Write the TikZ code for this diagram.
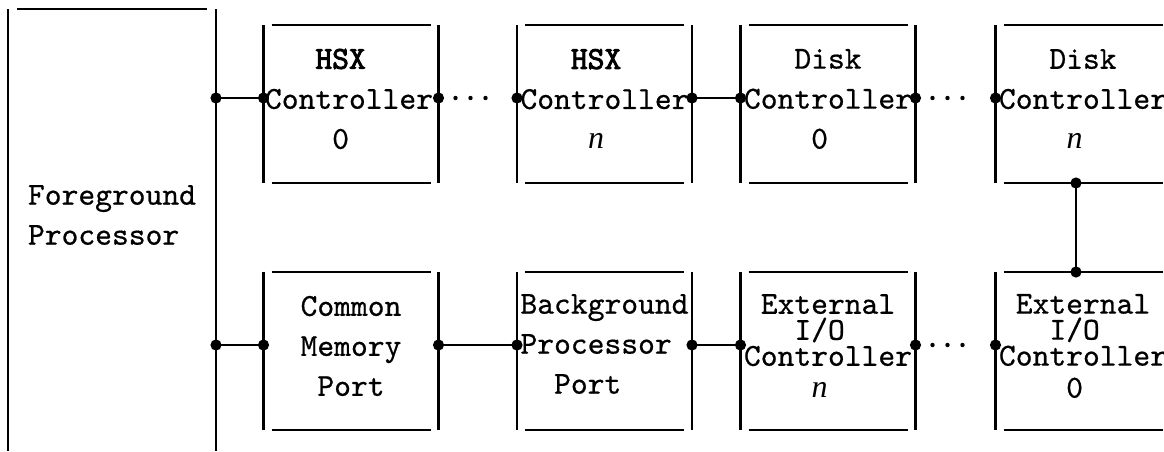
\documentclass[tikz,border=0pt]{standalone}
\usepackage{fontspec}
\newfontfamily\serifit{Liberation Serif}
\newfontfamily\tw{lmmono10-regular.otf}[FakeBold=0.6]
\newfontfamily\twb{lmmono10-regular.otf}[FakeBold=2.6]
\usetikzlibrary{calc}
\setlength{\lineskiplimit}{-20pt}
\newcommand\nn{{\serifit\itshape n}}
\newcommand\hs{\hphantom{x}}
\newcommand\bxframe[1]{%
  \draw[vline] (#1.north west) -- (#1.south west) (#1.north east) -- (#1.south east);
  \draw[hline] ([xshift=4pt]#1.north west) -- ([xshift=-4pt]#1.north east)
               ([xshift=4pt]#1.south west) -- ([xshift=-4pt]#1.south east);}
\newcommand\linkbx[2]{%
  \draw[conn] ($(#1.east)+(0,-6)$) -- ($(#2.west)+(0,-6)$);
  \fill ($(#1.east)+(0,-6)$) circle[radius=2.8pt] ($(#2.west)+(0,-6)$) circle[radius=2.8pt];}
\newcommand\gapbx[2]{%
  \fill ($(#1.east)+(0,-6)$) circle[radius=2.8pt] ($(#2.west)+(0,-6)$) circle[radius=2.8pt];
  \fill ($(#1.east)+(17,-6)$) circle[radius=1.1pt] ($(#1.east)+(32,-6)$) circle[radius=1.1pt]
        ($(#1.east)+(47,-6)$) circle[radius=1.1pt];}
\begin{document}
\begin{tikzpicture}[x=0.5pt,y=-0.5pt,
  vline/.style={line width=1.3pt},
  hline/.style={line width=0.8pt},
  conn/.style={line width=0.6pt},
  bx/.style={inner sep=0pt,outer sep=0pt,minimum width=87.5pt,minimum height=79pt},
  txt/.style={align=center,inner sep=0pt,font=\fontsize{16}{20}\selectfont\tw},
  txtx/.style={align=center,inner sep=0pt,font=\fontsize{16}{13}\selectfont\tw}]
\useasboundingbox (0,0) rectangle (1164,451);
\clip (0,0) rectangle (1164,451);
% foreground processor
\node[inner sep=0pt,outer sep=0pt,minimum width=104pt,minimum height=221pt] (fp) at (112,230) {};
\draw[vline] (fp.north west) -- (fp.south west) (fp.north east) -- (fp.south east);
\draw[hline] ([xshift=4.5pt]fp.north west) -- ([xshift=-4.5pt]fp.north east);
\node[txt,align=left] (fpt) at (112,215) {Foreground\\Processor};
% top row
\node[bx] (h0) at (351,104) {};
\node[bx] (h1) at (604.5,104) {};
\node[bx] (d0) at (828,104) {};
\node[bx] (d1) at (1083,104) {};
% bottom row
\node[bx] (cm) at (351,351) {};
\node[bx] (bp) at (604.5,351) {};
\node[bx] (xn) at (828,351) {};
\node[bx] (x0) at (1083,351) {};
\foreach \b in {h0,h1,d0,d1,cm,bp,xn,x0} {\bxframe{\b}}
% texts
\node[txt] (h0t) at (349,99) {{\twb HSX}\hs\\Controller\\0\hs};
\node[txt] (h1t) at (604.5,99) {{\twb HSX}\hs\\Controller\\\nn\hs};
\node[txt] (d0t) at (828,99) {Disk\\Controller\\0\hs};
\node[txt] (d1t) at (1083,99) {Disk\\Controller\\\nn\hs};
\node[txt] (cmt) at (351,346) {Common\\Memory\\Port};
\node[txt] (bpt) at (604.5,344) {Background\\Processor\hs\\Port\hs\hs};
\node[txtx] (xnt) at (828,346) {External\\I/O\hs\\Controller\\[3pt]\nn\hs};
\node[txtx] (x0t) at (1083,346) {External\\I/O\hs\\Controller\\[3pt]0\hs};
% connectors
\draw[conn] ($(fp.east |- h0.west)+(0,-6)$) -- ($(h0.west)+(0,-6)$);
\fill ($(fp.east |- h0.west)+(0,-6)$) circle[radius=2.8pt] ($(h0.west)+(0,-6)$) circle[radius=2.8pt];
\draw[conn] ($(fp.east |- cm.west)+(0,-6)$) -- ($(cm.west)+(0,-6)$);
\fill ($(fp.east |- cm.west)+(0,-6)$) circle[radius=2.8pt] ($(cm.west)+(0,-6)$) circle[radius=2.8pt];
\gapbx{h0}{h1}
\linkbx{h1}{d0}
\gapbx{d0}{d1}
\linkbx{cm}{bp}
\linkbx{bp}{xn}
\gapbx{xn}{x0}
\draw[line width=1.3pt] ($(d1.south)+(-7,0)$) -- ($(x0.north)+(-7,0)$);
\fill ($(d1.south)+(-7,0)$) circle[radius=2.8pt] ($(x0.north)+(-7,0)$) circle[radius=2.8pt];
\end{tikzpicture}
\end{document}
